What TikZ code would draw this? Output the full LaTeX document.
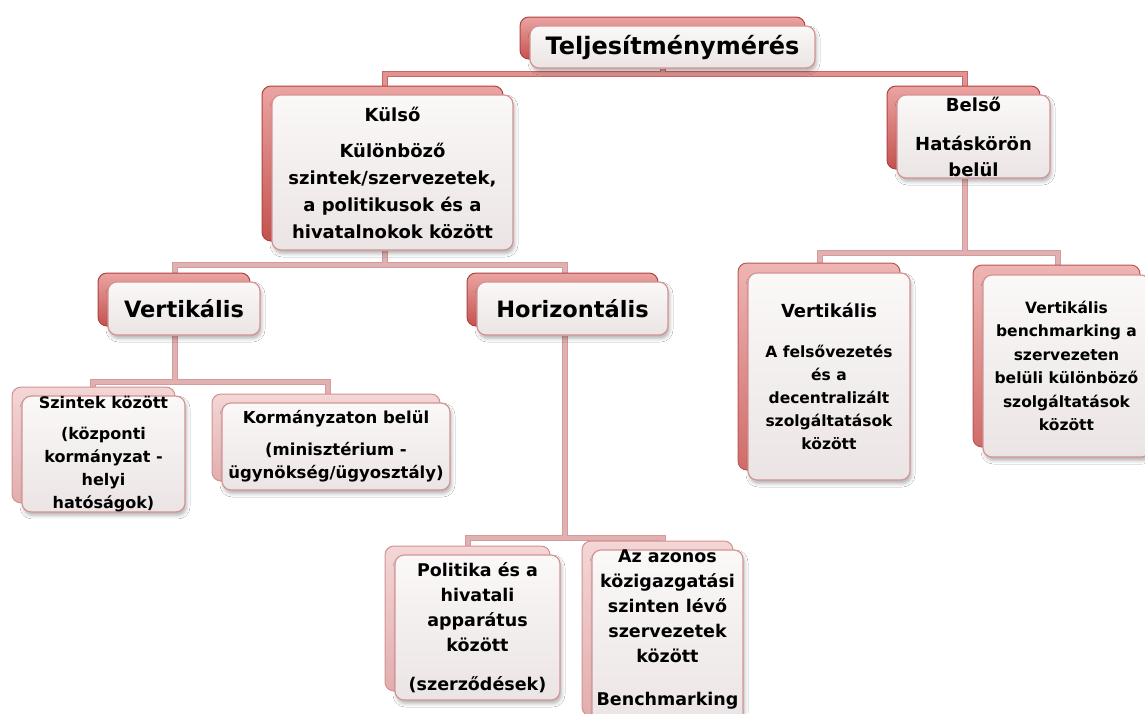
\documentclass[tikz,border=0pt]{standalone}
\usepackage{fontspec}
\setmainfont{DejaVu Sans}
\usetikzlibrary{shadows,shadows.blur,backgrounds}

\definecolor{fronttop}{HTML}{FBF8F8}
\definecolor{frontbot}{HTML}{EBE4E4}
\definecolor{frontedge}{HTML}{D49494}
\definecolor{backtopD}{HTML}{EBA4A2}
\definecolor{backbotD}{HTML}{C4524F}
\definecolor{backedgeD}{HTML}{B0433F}
\definecolor{backtopM}{HTML}{EEB5B3}
\definecolor{backbotM}{HTML}{D06C69}
\definecolor{backedgeM}{HTML}{BC5855}
\definecolor{backtopL}{HTML}{F4D6D6}
\definecolor{backbotL}{HTML}{E2AEAE}
\definecolor{backedgeL}{HTML}{D39292}
\definecolor{linkoutA}{HTML}{C86866}
\definecolor{linkinA}{HTML}{E29290}
\definecolor{linkoutB}{HTML}{D29C9C}
\definecolor{linkinB}{HTML}{E1B0B0}

\tikzset{
  front/.style={rectangle, rounded corners=9pt, draw=frontedge, line width=1.2pt,
    top color=fronttop, bottom color=frontbot, align=center, inner sep=0pt,
    text=black, font=\bfseries},
  softshadow/.style={blur shadow={shadow xshift=1.5pt, shadow yshift=-3.5pt,
    shadow blur radius=3.5pt, shadow opacity=30}},
  backD/.style={copy shadow={shadow xshift=-10pt, shadow yshift=9pt, opacity=1,
    top color=backtopD, bottom color=backbotD, draw=backedgeD, line width=1pt}, softshadow},
  backM/.style={copy shadow={shadow xshift=-10pt, shadow yshift=10pt, opacity=1,
    top color=backtopM, bottom color=backbotM, draw=backedgeM, line width=1pt}, softshadow},
  backL/.style={copy shadow={shadow xshift=-10pt, shadow yshift=9pt, opacity=1,
    top color=backtopL, bottom color=backbotL, draw=backedgeL, line width=1pt}, softshadow},
  linkA/.style={draw=linkinA, line width=4.4pt,
    preaction={draw=linkoutA, line width=6pt}},
  linkB/.style={draw=linkinB, line width=4.4pt,
    preaction={draw=linkoutB, line width=6pt}},
}

\begin{document}
\begin{tikzpicture}[x=1pt, y=-1pt]
\useasboundingbox (0,0) rectangle (1145,713);

% top level
\node[front, backD, minimum width=285pt, minimum height=42pt,
  font=\bfseries\fontsize{24}{28}\selectfont] (root) at (672.5,47) {Teljesítménymérés};

% second level
\node[front, backD, minimum width=241pt, minimum height=155pt,
  font=\bfseries\fontsize{18}{27}\selectfont] (kulso) at (392.5,172.5)
  {Külső\\[9pt]Különböző\\szintek/szervezetek,\\a politikusok és a\\hivatalnokok között};
\node[front, backD, minimum width=153pt, minimum height=83pt,
  font=\bfseries\fontsize{18}{26}\selectfont] (belso) at (973.5,136.5)
  {Belső\\[13pt]Hatáskörön\\belül};

% third level, external branch
\node[front, backD, minimum width=152pt, minimum height=53pt,
  font=\bfseries\fontsize{22.5}{26}\selectfont] (vert) at (184,308.5) {Vertikális};
\node[front, backD, minimum width=191pt, minimum height=53pt,
  font=\bfseries\fontsize{22.5}{26}\selectfont] (horiz) at (572.5,308.5) {Horizontális};

% third level, internal branch
\node[front, backM, minimum width=162pt, minimum height=207pt,
  font=\bfseries\fontsize{15.5}{23}\selectfont] (vleft) at (829,376.5)
  {{\fontsize{18}{23}\selectfont Vertikális}\\[17pt]A felsővezetés\\és a\\decentralizált\\szolgáltatások\\között};
\node[front, backM, minimum width=167pt, minimum height=182pt,
  font=\bfseries\fontsize{15.5}{23.5}\selectfont] (vright) at (1066.5,366)
  {Vertikális\\benchmarking a\\szervezeten\\belüli különböző\\szolgáltatások\\között};

% fourth level under "Vertikális"
\node[front, backL, minimum width=163pt, minimum height=108pt,
  font=\bfseries\fontsize{16}{23}\selectfont] (szintek) at (103.5,454)
  {Szintek között\\[8pt](központi\\kormányzat -\\helyi\\hatóságok)};
\node[front, backL, minimum width=228pt, minimum height=87pt,
  font=\bfseries\fontsize{16.5}{23}\selectfont] (korm) at (336,446.5)
  {Kormányzaton belül\\[9pt](minisztérium -\\ügynökség/ügyosztály)};

% fourth level under "Horizontális"
\node[front, backL, minimum width=165pt, minimum height=145pt,
  font=\bfseries\fontsize{17.5}{25}\selectfont] (politika) at (477.5,627.5)
  {Politika és a\\hivatali\\apparátus\\között\\[14pt](szerződések)};
\node[front, backL, minimum width=151pt, minimum height=175pt] (azonos) at (667.5,637.5) {};
\node[align=center, inner sep=0pt, font=\bfseries\fontsize{17.5}{25}\selectfont] (azonos-t)
  at (667.5,629) {Az azonos\\közigazgatási\\szinten lévő\\szervezetek\\között\\[18pt]Benchmarking};

% junction points of the connectors
\coordinate (j1) at (663,74);
\coordinate (j2) at (385,265);
\coordinate (j3) at (965,253);
\coordinate (j4) at (175,382);
\coordinate (j5) at (565,538);

\begin{pgfonlayer}{background}
\fill[white] (0,0) rectangle (1145,713);
\draw[linkA] ([xshift=-9.5pt]root.south) -- (j1)
  ([xshift=-7.5pt]kulso.north) |- (j1) -| ([xshift=-8.5pt]belso.north);
\draw[linkB] ([xshift=-7.5pt]kulso.south) -- (j2)
  ([xshift=-9pt]vert.north) |- (j2) -| ([xshift=-7.5pt]horiz.north);
\draw[linkB] ([xshift=-8.5pt]belso.south) -- (j3)
  ([xshift=-9pt]vleft.north) |- (j3) -| ([xshift=-8.5pt]vright.north);
\draw[linkB] ([xshift=-9pt]vert.south) -- (j4)
  ([xshift=-10.5pt]szintek.north) |- (j4) -| ([xshift=-8pt]korm.north);
\draw[linkB] ([xshift=-7.5pt]horiz.south) -- (j5)
  ([xshift=-9.5pt]politika.north) |- (j5) -| ([xshift=-4.5pt]azonos.north);
\end{pgfonlayer}
\end{tikzpicture}
\end{document}
